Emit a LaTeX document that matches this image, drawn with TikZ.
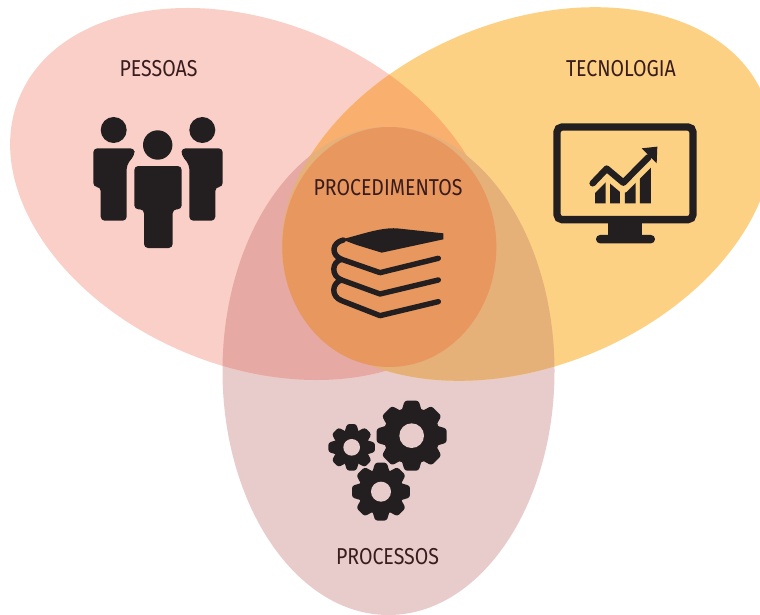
\documentclass[tikz,border=0pt]{standalone}
\usepackage{fontspec}
\setmainfont[FakeStretch=0.85]{Fira Sans}
\definecolor{cpink}{HTML}{F9CFC7}
\definecolor{corange}{HTML}{FDD184}
\definecolor{cproc}{HTML}{E8CCCB}
\definecolor{cpo}{HTML}{F9B06E}
\definecolor{cpp}{HTML}{E6A9A3}
\definecolor{cop}{HTML}{E6B079}
\definecolor{ccirc}{HTML}{E8975F}
\definecolor{cink}{HTML}{231F20}
\tikzset{
  label text/.style={text=cink!90!red,font=\fontsize{23}{25}\selectfont,inner sep=0pt},
  inkline/.style={draw=cink,line cap=round,line join=round},
}
\newcommand{\blobpink}{(252,194) ellipse [x radius=252,y radius=172,rotate=-22.6]}
\newcommand{\bloborange}{(527,194) ellipse [x radius=256,y radius=172,rotate=22.6]}
\newcommand{\blobproc}{(388.5,371) ellipse [x radius=166,y radius=244]}
\newcommand{\gearicon}[5]{% x,y,outer,body,hole
  \begin{scope}[shift={(#1,#2)}]
    \foreach \a in {0,45,...,315}{
      \fill[cink,rotate=\a,rounded corners=2.5pt] (-0.32*#3,-0.6*#3) -- (-0.2*#3,-#3) -- (0.2*#3,-#3) -- (0.32*#3,-0.6*#3) -- cycle;
    }
    \fill[cink] (0,0) circle [radius=#4];
    \fill[cproc] (0,0) circle [radius=#5];
  \end{scope}}
\begin{document}
\begin{tikzpicture}[x=1pt,y=-1pt]
\useasboundingbox (0,0) rectangle (760,615);
\fill[white] (0,0) rectangle (760,615);
% blobs
\fill[cproc] \blobproc;
\fill[cpink] \blobpink;
\fill[corange] \bloborange;
\begin{scope}\clip \blobpink; \fill[cpo] \bloborange; \end{scope}
\begin{scope}\clip \blobproc; \fill[cpp] \blobpink; \end{scope}
\begin{scope}\clip \blobproc; \fill[cop] \bloborange; \end{scope}
\fill[ccirc] (389.3,247) ellipse [x radius=107,y radius=120];
% labels
\node[label text] (pessoas) at (158.5,69) {PESSOAS};
\node[label text] (tecnologia) at (621,69) {TECNOLOGIA};
\node[label text] (procedimentos) at (388,188) {PROCEDIMENTOS};
\node[label text] (processos) at (387.5,557) {PROCESSOS};
% people
\fill[cink] (113.7,130) circle [radius=13];
\fill[cink] (157.7,145) circle [radius=14.7];
\fill[cink] (202.3,130) circle [radius=13];
\fill[cink,rounded corners=4] (93.3,148.3) -- (134.5,148.3) -- (134.5,155) -- (126.7,165) -- (126.7,220.7) -- (100.7,220.7) -- (100.7,187) -- (93.3,187) -- cycle;
\fill[cink,rounded corners=4] (222.7,148.3) -- (181.5,148.3) -- (181.5,155) -- (189.3,165) -- (189.3,220.7) -- (215.3,220.7) -- (215.3,187) -- (222.7,187) -- cycle;
\fill[cink,rounded corners=4] (134.3,166) -- (181.7,166) -- (181.7,209.3) -- (172.7,209.3) -- (172.7,248) -- (144,248) -- (144,209.3) -- (134.3,209.3) -- cycle;
% monitor
\begin{scope}[shift={(540,50)},x=0.3333pt,y=-0.3333pt]
  \draw[cink,line width=7.3pt,rounded corners=5pt] (51,231) rectangle (459,509);
  \fill[cink] (205,515) rectangle (305,565);
  \fill[cink,rounded corners=4pt] (168,555) rectangle (345,580);
  \fill[cink] (165,460) -- (165,390) -- (197,370) -- (197,460) -- cycle;
  \fill[cink] (210,460) -- (210,370) -- (240,390) -- (240,460) -- cycle;
  \fill[cink] (255,460) -- (255,390) -- (287,370) -- (287,460) -- cycle;
  \fill[cink] (300,460) -- (300,340) -- (333,320) -- (333,460) -- cycle;
  \draw[corange,line width=9pt,line join=round] (150,425) -- (200,374) -- (250,416) -- (345,321);
  \draw[inkline,line width=6.5pt] (158,400) -- (200,356) -- (250,398) -- (325,322);
  \fill[cink] (305,295) -- (352,290) -- (350,340) -- cycle;
\end{scope}
% books
\begin{scope}[shift={(300,170)},x=0.3333pt,y=-0.3333pt]
  \fill[cink] (125,208) .. controls (180,195) and (240,172) .. (290,175) -- (430,190) -- (430,208) -- (245,248) -- (170,225) -- cycle;
  \draw[inkline,line width=5.4pt] (130,210) .. controls (95,218) and (92,255) .. (125,268) -- (240,308) -- (415,265);
  \draw[inkline,line width=5.4pt] (125,268) .. controls (95,275) and (92,318) .. (125,330) -- (240,372) -- (415,330);
  \draw[inkline,line width=5.4pt] (125,330) .. controls (95,338) and (92,380) .. (125,392) -- (240,437) -- (415,395);
\end{scope}
% gears
\begin{scope}[shift={(310,390)},x=0.3333pt,y=-0.3333pt]
  \gearicon{305}{137}{105}{85}{37}
  \gearicon{213}{305}{87}{68}{30}
  \gearicon{125}{172}{70}{52}{25}
\end{scope}
\end{tikzpicture}
\end{document}
